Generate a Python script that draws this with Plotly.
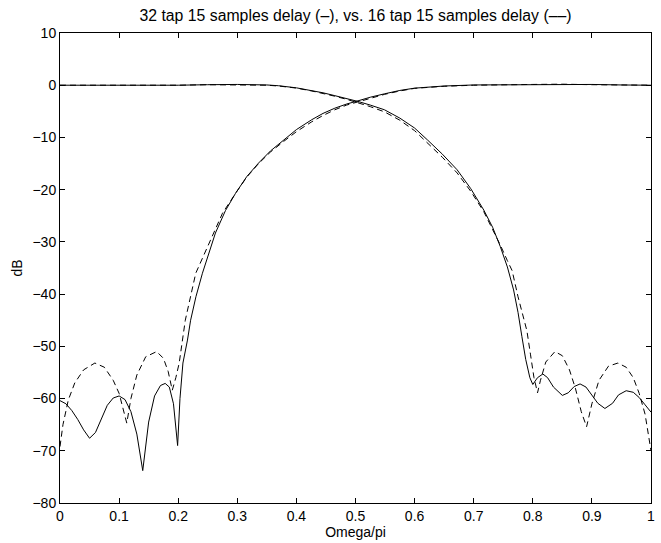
"""Magnitude responses: 32 tap vs 16 tap filter pair, 15 samples delay."""
import plotly.graph_objects as go

TITLE = '32 tap 15 samples delay (\u2013), vs. 16 tap 15 samples delay (\u2013\u2013)'

# 32 tap, rising (high pass) branch
w_32_hi = [0.000, 0.010, 0.020, 0.030, 0.040, 0.050, 0.060, 0.070, 0.080, 0.090,
           0.100, 0.110, 0.120, 0.130, 0.140, 0.150, 0.160, 0.170, 0.178, 0.185,
           0.192, 0.199, 0.203, 0.208, 0.2157, 0.221, 0.230, 0.241, 0.263, 0.280,
           0.297, 0.316, 0.336, 0.356, 0.378, 0.400, 0.426, 0.445, 0.465, 0.485,
           0.504, 0.525, 0.549, 0.575, 0.600, 0.650, 0.700, 0.750, 0.800, 0.850,
           0.900, 0.950, 1.000]
db_32_hi = [-60.4, -61.0, -62.3, -64.0, -66.0, -67.6, -66.5, -63.8, -61.3, -59.9,
            -59.5, -60.2, -62.5, -66.8, -73.8, -64.5, -59.5, -57.5, -57.1, -57.8,
            -61.0, -69.0, -60.0, -53.2, -48.8, -45.0, -40.5, -36.0, -28.3, -24.0,
            -20.7, -17.5, -14.9, -12.6, -10.5, -8.5, -6.6, -5.4, -4.4, -3.6,
            -3.0, -2.3, -1.65, -1.0, -0.56, -0.15, 0.05, 0.1, 0.15, 0.2,
            0.15, 0.05, 0.0]

# 32 tap, falling (low pass) branch
w_32_lo = [0.000, 0.050, 0.100, 0.150, 0.200, 0.250, 0.300, 0.350, 0.370, 0.400,
           0.426, 0.445, 0.465, 0.485, 0.504, 0.525, 0.549, 0.575, 0.600, 0.622,
           0.647, 0.672, 0.695, 0.717, 0.732, 0.745, 0.757, 0.7675, 0.775, 0.7815,
           0.788, 0.795, 0.800, 0.808, 0.817, 0.825, 0.835, 0.850, 0.860, 0.870,
           0.880, 0.890, 0.900, 0.910, 0.922, 0.935, 0.945, 0.958, 0.970, 0.980,
           0.990, 1.000]
db_32_lo = [0.0, 0.0, -0.05, -0.1, 0.0, 0.1, 0.15, 0.05, -0.1, -0.5,
            -1.0, -1.45, -2.0, -2.5, -3.1, -3.8, -4.7, -6.3, -8.2, -10.5,
            -13.2, -16.2, -19.8, -23.9, -27.2, -30.9, -34.8, -39.2, -43.5, -48.1,
            -52.5, -56.0, -57.3, -56.0, -55.3, -56.0, -57.8, -59.4, -58.9, -57.7,
            -57.2, -57.8, -59.3, -60.9, -61.9, -60.9, -59.3, -58.5, -58.8, -59.8,
            -61.2, -62.6]

# 16 tap, rising branch
w_16_hi = [0.000, 0.005, 0.014, 0.025, 0.040, 0.059, 0.075, 0.090, 0.100, 0.107,
           0.113, 0.120, 0.130, 0.145, 0.1636, 0.175, 0.183, 0.190, 0.196, 0.2017,
           0.207, 0.212, 0.2297, 0.255, 0.275, 0.297, 0.316, 0.336, 0.356, 0.378,
           0.400, 0.426, 0.445, 0.465, 0.485, 0.504, 0.525, 0.549, 0.575, 0.600,
           0.650, 0.700, 0.800, 0.850, 0.900, 1.000]
db_16_hi = [-69.2, -65.0, -60.3, -57.0, -54.5, -53.2, -54.0, -56.5, -59.0, -61.8,
            -64.7, -60.0, -55.5, -52.0, -51.0, -52.3, -54.8, -58.4, -56.0, -53.2,
            -48.8, -45.0, -36.0, -29.6, -24.5, -20.7, -17.6, -15.0, -12.8, -10.8,
            -8.9, -7.0, -5.8, -4.7, -3.8, -3.2, -2.5, -1.75, -1.1, -0.6,
            -0.2, 0.0, 0.15, 0.2, 0.1, 0.0]

# 16 tap, falling branch
w_16_lo = [0.000, 0.100, 0.150, 0.200, 0.250, 0.300, 0.350, 0.370, 0.400, 0.426,
           0.445, 0.465, 0.485, 0.504, 0.525, 0.549, 0.575, 0.600, 0.622, 0.647,
           0.672, 0.695, 0.717, 0.732, 0.745, 0.757, 0.765, 0.775, 0.783, 0.790,
           0.796, 0.802, 0.808, 0.813, 0.822, 0.8375, 0.850, 0.862, 0.872, 0.882,
           0.891, 0.900, 0.912, 0.928, 0.944, 0.958, 0.970, 0.980, 0.990, 0.997,
           1.000]
db_16_lo = [0.0, 0.0, -0.1, 0.0, 0.1, 0.1, 0.0, -0.15, -0.55, -1.1,
            -1.55, -2.1, -2.7, -3.3, -4.1, -5.1, -6.7, -8.7, -11.0, -13.8,
            -16.8, -20.3, -24.2, -27.5, -30.6, -33.6, -35.5, -40.5, -44.0, -47.0,
            -51.5, -56.0, -58.9, -56.5, -53.0, -51.0, -51.8, -54.5, -58.0, -62.5,
            -65.4, -61.0, -56.5, -53.8, -53.2, -54.0, -56.0, -59.0, -63.0, -68.6,
            -70.0]

x_ticks = [0, 0.1, 0.2, 0.3, 0.4, 0.5, 0.6, 0.7, 0.8, 0.9, 1]
x_labels = ['0', '0.1', '0.2', '0.3', '0.4', '0.5', '0.6', '0.7', '0.8', '0.9', '1']
y_ticks = [-80, -70, -60, -50, -40, -30, -20, -10, 0, 10]

FONT = 'Liberation Sans, Arial, Helvetica, sans-serif'


def main():
    fig = go.Figure()
    solid = dict(color='black', width=1)
    dashed = dict(color='black', width=1, dash='6px,4px')
    fig.add_trace(go.Scatter(x=w_32_hi, y=db_32_hi, mode='lines', line=solid))
    fig.add_trace(go.Scatter(x=w_32_lo, y=db_32_lo, mode='lines', line=solid))
    fig.add_trace(go.Scatter(x=w_16_hi, y=db_16_hi, mode='lines', line=dashed))
    fig.add_trace(go.Scatter(x=w_16_lo, y=db_16_lo, mode='lines', line=dashed))

    axis_common = dict(
        showline=True, linecolor='black', linewidth=1, mirror='ticks',
        ticks='inside', ticklen=5, tickcolor='black', showgrid=False,
        zeroline=False, tickfont=dict(size=14, color='black'))
    fig.update_xaxes(range=[0, 1], tickvals=x_ticks, ticktext=x_labels,
                     title=dict(text='Omega/pi', standoff=0,
                                font=dict(size=14, color='black')),
                     **axis_common)
    fig.update_yaxes(range=[-80, 10], tickvals=y_ticks,
                     title=dict(text='dB', standoff=6,
                                font=dict(size=14, color='black')),
                     **axis_common)
    fig.update_layout(
        width=661, height=543,
        margin=dict(l=60, r=6, t=33, b=40),
        paper_bgcolor='white', plot_bgcolor='white',
        showlegend=False,
        font=dict(family=FONT, color='black'),
        title=dict(text=TITLE, xref='paper', x=0.5, xanchor='center',
                   y=0.972, yanchor='middle',
                   font=dict(size=15.8, color='black')),
    )
    # page has an 8px body margin by default; drop it so the figure fills the window
    fig.write_html('out.html',
                   config={'displayModeBar': False},
                   post_script="document.body.style.margin='0';"
                               "document.body.style.overflow='hidden';")


if __name__ == '__main__':
    main()
